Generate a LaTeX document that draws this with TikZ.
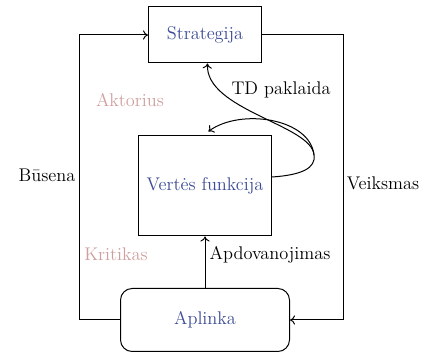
\documentclass[tikz,border=0pt]{standalone}
\usetikzlibrary{arrows.meta}
\definecolor{nodeblue}{RGB}{60,76,150}
\definecolor{rose}{RGB}{208,158,158}
\begin{document}
\begin{tikzpicture}[x=0.6pt,y=-0.6pt,
  every node/.style={font=\fontsize{11pt}{13pt}\selectfont},
  box/.style={draw, line width=0.6pt, text=nodeblue, inner sep=0pt},
  conn/.style={line width=0.6pt},
  arr/.style={conn, -{To[length=3pt,width=5.5pt]}},
  role/.style={text=rose},
  lab/.style={text=black}]
\useasboundingbox (0,0) rectangle (430,357);
\node[box, minimum width=67.8pt, minimum height=33.6pt] (strat) at (205,35) {Strategija};
\node[box, minimum width=79.8pt, minimum height=60pt] (vf) at (205,186) {Vertės funkcija};
\node[box, rounded corners=7pt, minimum width=101.4pt, minimum height=37.8pt] (apl) at (205,320) {Aplinka};
\draw[arr] (apl.west) -- ++(-41,0) |- (strat.west);
\draw[arr] (strat.east) -- ++(81,0) |- (apl.east);
\draw[arr] (apl.north) -- (vf.south);
\coordinate (td) at (314,155);
\draw[conn] ([yshift=5.4pt]vf.east) .. controls (302,175) and (316,168) .. (td);
\draw[arr] (td) .. controls (312,125) and (205,110) .. ([xshift=1.5pt]strat.south);
\draw[arr] (td) .. controls (310,118) and (240,108) .. ([xshift=2pt,yshift=2.4pt]vf.north);
\node[lab] (tdl) at (281,90) {TD paklaida};
\node[lab] (bus) at (47,175) {Būsena};
\node[lab] (vei) at (383,183) {Veiksmas};
\node[lab] (apd) at (270,255) {Apdovanojimas};
\node[role] (akt) at (130,100) {Aktorius};
\node[role] (kri) at (116,254) {Kritikas};
\end{tikzpicture}
\end{document}
